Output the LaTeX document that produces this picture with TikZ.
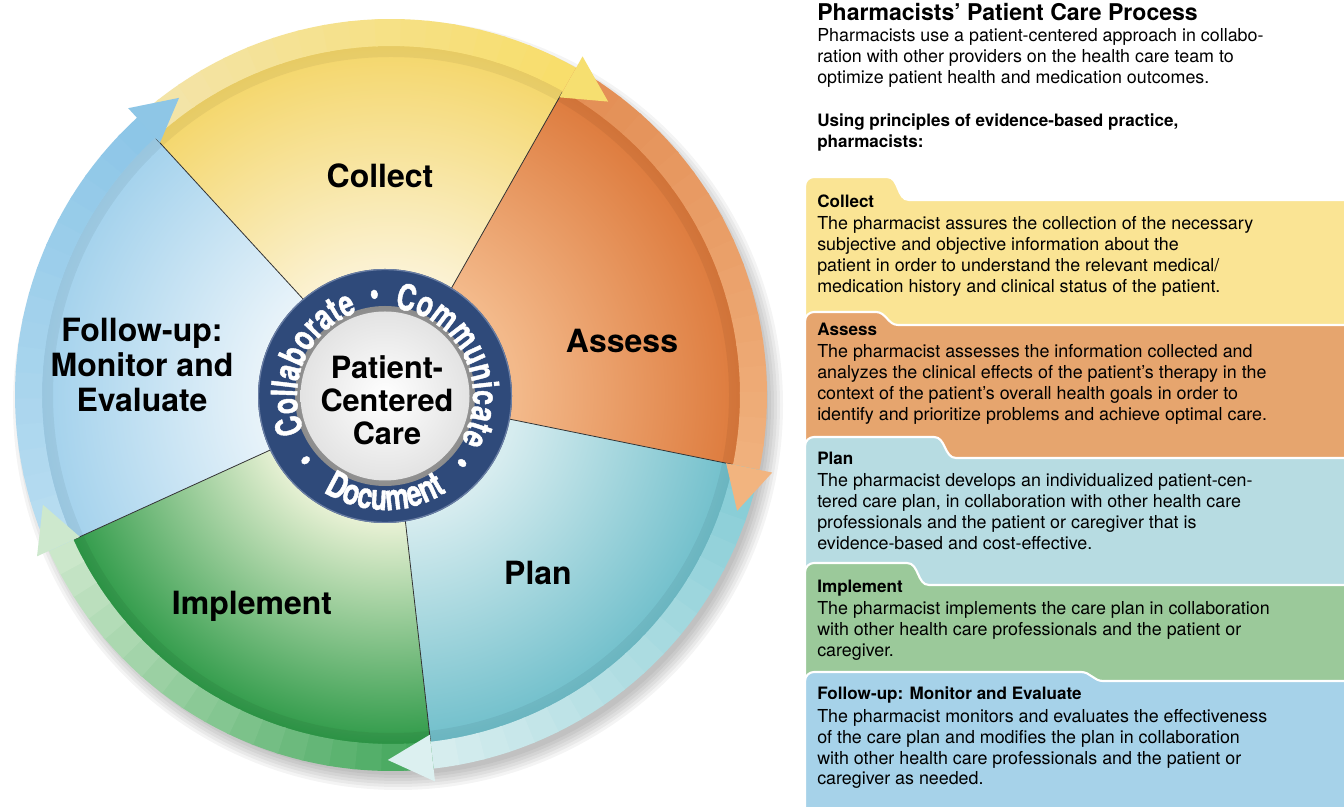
\documentclass[tikz,border=0pt]{standalone}
\usepackage{fontspec}
\setmainfont{TeX Gyre Heros}
\newfontfamily\ringfont{TeX Gyre Heros}[FakeStretch=0.74,FakeBold=1.2]
\usetikzlibrary{decorations.text}
\newcommand\ringtxt{\ringfont\bfseries\fontsize{27}{27}\selectfont}
% sector faces
\definecolor{colIn}{HTML}{FBF2D3}\definecolor{colOut}{HTML}{F4D66A}
\definecolor{assIn}{HTML}{F3B98A}\definecolor{assOut}{HTML}{DD7A3C}
\definecolor{plaIn}{HTML}{D6ECEF}\definecolor{plaOut}{HTML}{70BFCB}
\definecolor{impIn}{HTML}{EAF2D6}\definecolor{impOut}{HTML}{2E9A48}
\definecolor{folIn}{HTML}{EAF4FA}\definecolor{folOut}{HTML}{A2D1EC}
% bands
\definecolor{colBs}{HTML}{F3E4AA}\definecolor{colBe}{HTML}{F8DE6C}
\definecolor{assBs}{HTML}{E38E55}\definecolor{assBe}{HTML}{F0B07C}
\definecolor{plaBs}{HTML}{86CCD6}\definecolor{plaBe}{HTML}{D6EDEE}
\definecolor{impBs}{HTML}{45A85E}\definecolor{impBe}{HTML}{CBE7CA}
\definecolor{folBs}{HTML}{B8DDF1}\definecolor{folBe}{HTML}{8DC6E7}
% arrow heads
\definecolor{colAr}{HTML}{F6DF70}\definecolor{assAr}{HTML}{F2B47F}
\definecolor{plaAr}{HTML}{DCF0F0}\definecolor{impAr}{HTML}{CDE8CD}
\definecolor{folAr}{HTML}{8EC6E6}
% hub
\definecolor{hubnavy}{HTML}{2F4A7A}\definecolor{hubrim}{HTML}{6A7EA4}
% panel boxes
\definecolor{boxCol}{HTML}{FAE494}\definecolor{boxAss}{HTML}{E6A56E}
\definecolor{boxPla}{HTML}{B7DCE2}\definecolor{boxImp}{HTML}{9BC99A}
\definecolor{boxFol}{HTML}{A6D2E9}
\pgfdeclareradialshading{shCol}{\pgfpoint{0bp}{0bp}}{color(0bp)=(colIn); color(9bp)=(colIn); color(25bp)=(colOut); color(50bp)=(colOut)}
\pgfdeclareradialshading{shAss}{\pgfpoint{0bp}{0bp}}{color(0bp)=(assIn); color(9bp)=(assIn); color(25bp)=(assOut); color(50bp)=(assOut)}
\pgfdeclareradialshading{shPla}{\pgfpoint{0bp}{0bp}}{color(0bp)=(plaIn); color(9bp)=(plaIn); color(25bp)=(plaOut); color(50bp)=(plaOut)}
\pgfdeclareradialshading{shImp}{\pgfpoint{0bp}{0bp}}{color(0bp)=(impIn); color(9bp)=(impIn); color(25bp)=(impOut); color(50bp)=(impOut)}
\pgfdeclareradialshading{shFol}{\pgfpoint{0bp}{0bp}}{color(0bp)=(folIn); color(9bp)=(folIn); color(25bp)=(folOut); color(50bp)=(folOut)}
\newcommand\pcptab[4]{%
  \path[fill=#1, draw=white, line width=1.6pt]
   (805,-8) -- (805,{#2-9}) to[out=90,in=180] (814,#2) -- ({#3-16},#2)
   to[out=0,in=180] ({#3+6},#4) -- (1352,#4) -- (1352,-8) -- cycle;}
\begin{document}
\begin{tikzpicture}[x=0.75pt,y=0.75pt,
  seclabel/.style={font=\bfseries\fontsize{24}{26.25}\selectfont, align=center, inner sep=0},
  hubtext/.style={font=\bfseries\fontsize{23}{24.75}\selectfont, align=center, inner sep=0},
  ringword/.style={decorate, decoration={text along path, text={|\ringtxt|#1}, text align=center, text color=white}},
  ringdot/.style={text=white, font=\ringtxt, inner sep=0},
  titletxt/.style={anchor=base west, inner sep=0, font=\bfseries\fontsize{17.3}{20}\selectfont},
  bodytxt/.style={anchor=base west, inner sep=0, font=\fontsize{13.4}{15.75}\selectfont},
  boldtxt/.style={anchor=base west, inner sep=0, font=\bfseries\fontsize{12.8}{15.75}\selectfont},
  boxlabel/.style={anchor=base west, inner sep=0, font=\bfseries\fontsize{12.8}{15}\selectfont}]
\useasboundingbox (0,0) rectangle (1344,806);
\fill[white] (0,0) rectangle (1344,806);

% ---------------- pie ----------------
\begin{scope}[shift={(391,411)}]
  \foreach \r in {370,373,...,385} \fill[black,opacity=0.045] (7,-10) circle (\r);
  \foreach \angA/\angB/\shd in {132.5/60.5/shCol, 60.5/-11.5/shAss, -11.5/-83.5/shPla, -83.5/-155.5/shImp, -155.5/-227.5/shFol}{
    \begin{scope}
      \clip (0,0) -- (\angA:349.5) arc[start angle=\angA, end angle=\angB, radius=349.5] -- cycle;
      \shade[shading=\shd] (0,0) circle (349.5);
    \end{scope}
  }
  \fill[black, opacity=0.05, even odd rule] (0,0) circle (349) (0,0) circle (338);
  \foreach \angA/\angB/\cbs/\cbe in {132.5/60.5/colBs/colBe, 60.5/-11.5/assBs/assBe, -11.5/-83.5/plaBs/plaBe, -83.5/-155.5/impBs/impBe, -155.5/-227.5/folBs/folBe}{
    \foreach \k in {0,...,17}{
      \pgfmathsetmacro\sA{\angA+(\angB-\angA)*\k/18}
      \pgfmathsetmacro\sE{\angA+(\angB-\angA)*(\k+1)/18-0.4}
      \pgfmathtruncatemacro\pct{100*\k/17}
      \fill[fill={\cbe!\pct!\cbs}] (\sA:349) arc[start angle=\sA, end angle=\sE, radius=349]
        -- (\sE:376) arc[start angle=\sE, end angle=\sA, radius=376] -- cycle;
    }
  }
  \foreach \angB in {60.5,-11.5,-83.5,-155.5,-227.5}
    \draw[black!80, line width=0.6pt] (\angB:120) -- (\angB:348);
  \foreach \angB/\car in {60.5/colAr, -11.5/assAr, -83.5/plaAr, -155.5/impAr, -227.5/folAr}
    \fill[fill=\car] (\angB:342) -- (\angB:389) -- ({\angB-7}:365) -- cycle;
\end{scope}

% ---------------- hub ----------------
\begin{scope}[shift={(385,410)}]
  \fill[hubnavy] (0,0) circle (127);
  \draw[hubrim, line width=0.9pt] (0,0) circle (126.4);
  \shade[inner color=black!20, outer color=black!45] (0,0) circle (90);
  \shade[inner color=white, outer color=black!11] (0,0) circle (84.5);
  \path[ringword=Collaborate] (216:88) arc[start angle=216, end angle=96, radius=88];
  \path[ringword=Communicate] (91.5:88) arc[start angle=91.5, end angle=-38.5, radius=88];
  \path[ringword=Document] (225:114) arc[start angle=225, end angle=315, radius=114];
  \node[ringdot, rotate=6] (dottop) at (96:99) {•};
  \node[ringdot, rotate=-131] (dotright) at (-41:99) {•};
  \node[ringdot, rotate=129] (dotleft) at (219:99) {•};
\end{scope}
\node[hubtext] (hubcenter) at (387,405.5) {Patient-\\Centered\\Care};

% ---------------- sector labels ----------------
\node[seclabel, anchor=base] (lcollect) at (380,618.5) {Collect};
\node[seclabel, anchor=base] (lassess) at (622,453.5) {Assess};
\node[seclabel, anchor=base] (lplan) at (538,221.5) {Plan};
\node[seclabel, anchor=base] (limplement) at (252,191.5) {Implement};
\node[seclabel] (lfollow) at (142,441.5) {Follow-up:\\Monitor and\\Evaluate};

% ---------------- right panel ----------------
\node[titletxt] (title) at (817,785) {Pharmacists’ Patient Care Process};
\node[bodytxt] (intro) at (817,764) {\begin{tabular}[t]{@{}l@{}}Pharmacists use a patient-centered approach in collabo-\\ ration with other providers on the health care team to\\ optimize patient health and medication outcomes.\end{tabular}};
\node[boldtxt] (using) at (817,679) {\begin{tabular}[t]{@{}l@{}}Using principles of evidence-based practice,\\ pharmacists:\end{tabular}};

\pcptab{boxCol}{629}{903}{606}
\pcptab{boxAss}{494}{892}{481}
\pcptab{boxPla}{369}{950}{348}
\pcptab{boxImp}{243}{923}{221}
\pcptab{boxFol}{134}{1097}{125}

\node[boxlabel] (hcollect) at (817,598) {Collect};
\node[bodytxt] (bcollect) at (817,576) {\begin{tabular}[t]{@{}l@{}}The pharmacist assures the collection of the necessary\\ subjective and objective information about the\\ patient in order to understand the relevant medical/\\ medication history and clinical status of the patient.\end{tabular}};
\node[boxlabel] (hassess) at (817,470) {Assess};
\node[bodytxt] (bassess) at (817,448) {\begin{tabular}[t]{@{}l@{}}The pharmacist assesses the information collected and\\ analyzes the clinical effects of the patient’s therapy in the\\ context of the patient’s overall health goals in order to\\ identify and prioritize problems and achieve optimal care.\end{tabular}};
\node[boxlabel] (hplan) at (817,341) {Plan};
\node[bodytxt] (bplan) at (817,319) {\begin{tabular}[t]{@{}l@{}}The pharmacist develops an individualized patient-cen-\\ tered care plan, in collaboration with other health care\\ professionals and the patient or caregiver that is\\ evidence-based and cost-effective.\end{tabular}};
\node[boxlabel] (himplement) at (817,213) {Implement};
\node[bodytxt] (bimplement) at (817,191) {\begin{tabular}[t]{@{}l@{}}The pharmacist implements the care plan in collaboration\\ with other health care professionals and the patient or\\ caregiver.\end{tabular}};
\node[boxlabel] (hfollow) at (817,106) {Follow-up: Monitor and Evaluate};
\node[bodytxt] (bfollow) at (817,84) {\begin{tabular}[t]{@{}l@{}}The pharmacist monitors and evaluates the effectiveness\\ of the care plan and modifies the plan in collaboration\\ with other health care professionals and the patient or\\ caregiver as needed.\end{tabular}};
\end{tikzpicture}
\end{document}
